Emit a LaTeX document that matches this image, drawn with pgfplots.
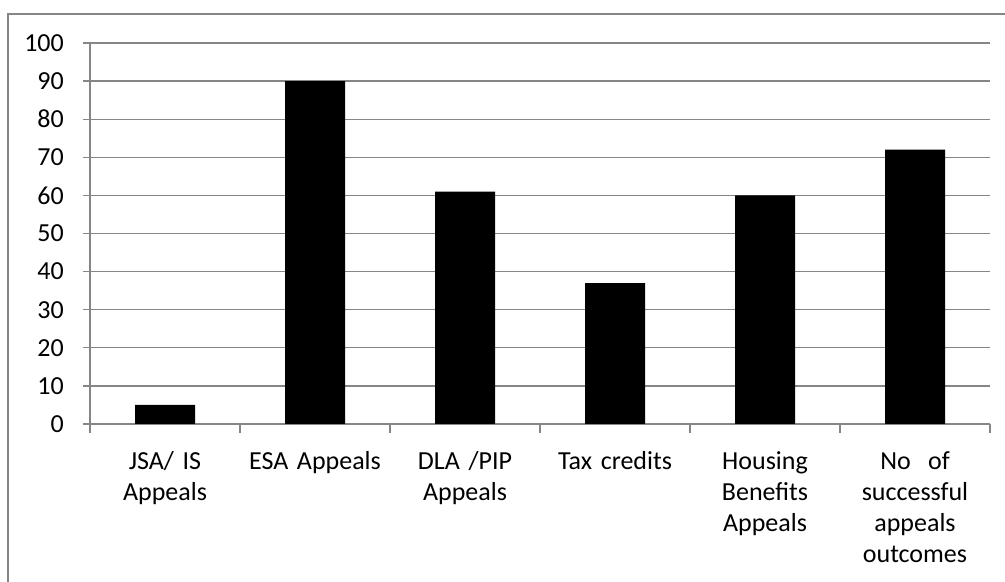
\documentclass[border=0pt]{standalone}
\usepackage{fontspec}
\setmainfont{Carlito}
\usepackage{pgfplots}
\pgfplotsset{compat=1.18}
\definecolor{gridgray}{RGB}{134,134,134}
\begin{document}
\fontsize{26bp}{31.3bp}\selectfont
\begin{tikzpicture}
\useasboundingbox (0,0) rectangle (1005bp,582bp);
\draw[gridgray, line width=1.3bp] (8bp,-2bp) -- (8bp,568bp) -- (1007bp,568bp);
\begin{axis}[
  at={(90bp,158bp)}, anchor=south west,
  scale only axis, width=900bp, height=381bp,
  xmin=0, xmax=6, ymin=0, ymax=100,
  axis lines*=left,
  axis line style={gridgray, line width=1.3bp, -},
  ytick={0,10,...,100},
  ymajorgrids,
  grid style={gridgray, line width=1.3bp},
  xtick={0.5,1.5,...,5.5},
  xticklabels={{JSA/ IS\\Appeals},{ESA Appeals},{DLA /PIP\\Appeals},{Tax credits},{Housing\\Benefits\\Appeals},{No\ \ of\\successful\\appeals\\outcomes}},
  major x tick style={draw=none},
  minor xtick={0,1,...,6},
  tick align=outside,
  major tick length=7bp,
  minor tick length=9bp,
  tick style={gridgray, line width=1.3bp},
  /pgf/number format/assume math mode=true,
  ticklabel style={font=\fontsize{26bp}{31.3bp}\selectfont, text=black},
  xticklabel style={align=center, text width=150bp, inner sep=0pt, anchor=north, yshift=-20bp},
  yticklabel style={anchor=east, inner sep=0pt, xshift=-19bp},
]
\addplot[ybar, bar width=60bp, bar shift=0pt, fill=black, draw=none]
  coordinates {(0.5,5) (1.5,90) (2.5,61) (3.5,37) (4.5,60) (5.5,72)};
\end{axis}
\end{tikzpicture}
\end{document}
